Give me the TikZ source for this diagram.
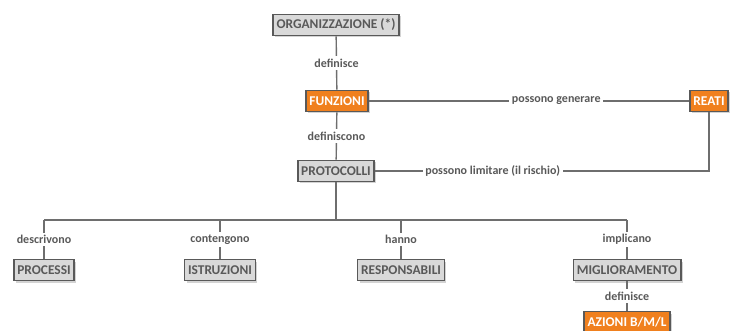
\documentclass[tikz,border=0pt]{standalone}
\usepackage{fontspec}
\setmainfont{Carlito}
\usetikzlibrary{positioning}
\usetikzlibrary{shadows}

\definecolor{boxgray}{HTML}{D9D9D9}
\definecolor{txtgray}{HTML}{595959}
\definecolor{linegray}{HTML}{6E6E6E}
\definecolor{orangebox}{HTML}{F0801E}

\tikzset{
    grigio/.style={draw=txtgray, line width=1.8pt, fill=boxgray, text=txtgray,
        font=\bfseries\fontsize{13.4}{14}\selectfont, inner xsep=3.5pt, inner ysep=2pt,
        minimum height=21pt, drop shadow={shadow xshift=2pt, shadow yshift=-2pt, opacity=0.35}},
    arancio/.style={grigio, fill=orangebox, text=white},
    lbl/.style={fill=white, text=txtgray, font=\bfseries\fontsize{12}{13}\selectfont, inner sep=2.5pt},
    conn/.style={draw=linegray, line width=1.4pt}
}

\begin{document}
\begin{tikzpicture}[x=1pt,y=-1pt]
        \useasboundingbox (0,0) rectangle (733,331);

        % top of the chart
        \node[grigio] (org) at (336,25) {ORGANIZZAZIONE (*)};
        \node[arancio] (funz) at (337,101) {FUNZIONI};
        \node[arancio] (reati) at (709,101) {REATI};
        \node[grigio] (prot) at (336,171) {PROTOCOLLI};

        \draw[conn] (org) -- node[lbl] {definisce} (funz);
        \draw[conn] (funz) -- node[lbl, pos=0.585] {possono generare} (reati);
        \draw[conn] (funz) -- node[lbl] {definiscono} (prot);
        \draw[conn] (reati.south) |- node[lbl, pos=0.824] {possono limitare (il rischio)} (prot.east);

        % the four branches
        \node[grigio] (proc) at (44,270) {PROCESSI};
        \node[grigio] (istr) at (220,270) {ISTRUZIONI};
        \node[grigio] (resp) at (401,270) {RESPONSABILI};
        \node[grigio] (migl) at (627,270) {MIGLIORAMENTO};
        \node[arancio] (azioni) at (627,322) {AZIONI B/M/L};

        \coordinate (bar) at (336,220);
        \draw[conn] (prot) -- (bar);
        \draw[conn] (proc.north |- bar) -- (migl.north |- bar);
        \draw[conn] (proc.north |- bar) -- node[lbl] {descrivono} (proc);
        \draw[conn] (istr.north |- bar) -- node[lbl] {contengono} (istr);
        \draw[conn] (resp.north |- bar) -- node[lbl] {hanno} (resp);
        \draw[conn] (migl.north |- bar) -- node[lbl] {implicano} (migl);
        \draw[conn] (migl) -- node[lbl] {definisce} (azioni);
    \end{tikzpicture}
\end{document}
